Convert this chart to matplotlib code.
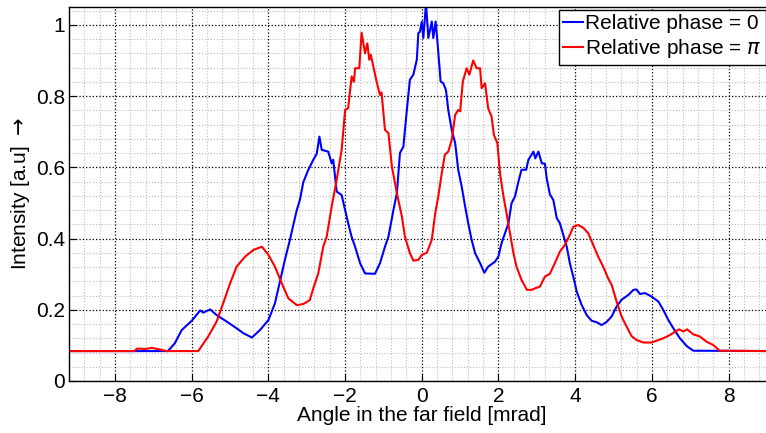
import matplotlib
matplotlib.use("Agg")
import matplotlib.pyplot as plt
from matplotlib.ticker import MultipleLocator, FixedLocator, FixedFormatter

plt.rcParams['font.family'] = ['Liberation Sans', 'DejaVu Sans']

# ----------------------------- Data -----------------------------

blue_x = [-9.2, -6.62, -6.44, -6.26, -6.0, -5.78, -5.70, -5.52, -5.35, -5.09, -4.83, -4.65,
          -4.43, -4.22, -4.0, -3.83, -3.70, -3.57, -3.44, -3.26, -3.18, -3.09, -2.96, -2.83,
          -2.74, -2.67, -2.61, -2.44, -2.35, -2.31, -2.22, -2.09, -2.0, -1.92, -1.83, -1.74,
          -1.61, -1.48, -1.22, -1.09, -0.96, -0.87, -0.74, -0.65, -0.57, -0.48, -0.39, -0.31,
          -0.22, -0.13, -0.09, -0.05, 0.0, 0.04, 0.11, 0.17, 0.26, 0.30, 0.36, 0.40, 0.46,
          0.49, 0.56, 0.63, 0.69, 0.78, 0.87, 0.95, 1.04, 1.13, 1.21, 1.30, 1.39, 1.52, 1.63,
          1.73, 1.91, 2.0, 2.08, 2.17, 2.26, 2.34, 2.43, 2.52, 2.60, 2.72, 2.78, 2.91, 2.96,
          3.04, 3.13, 3.21, 3.26, 3.34, 3.43, 3.52, 3.60, 3.69, 3.78, 3.86, 3.95, 4.04, 4.17,
          4.30, 4.43, 4.56, 4.69, 4.82, 4.95, 5.08, 5.21, 5.39, 5.52, 5.60, 5.69, 5.82, 5.99,
          6.17, 6.30, 6.43, 6.56, 6.73, 6.91, 7.08, 9.2]
blue_y = [0.084, 0.084, 0.106, 0.143, 0.169, 0.198, 0.192, 0.201, 0.185, 0.167, 0.148, 0.134,
          0.122, 0.143, 0.171, 0.218, 0.279, 0.340, 0.396, 0.480, 0.508, 0.558, 0.593, 0.621,
          0.638, 0.686, 0.649, 0.644, 0.611, 0.621, 0.532, 0.522, 0.480, 0.443, 0.405, 0.377,
          0.331, 0.302, 0.301, 0.331, 0.377, 0.405, 0.480, 0.527, 0.640, 0.658, 0.761, 0.846,
          0.860, 0.902, 0.977, 0.980, 1.009, 0.963, 1.06, 0.963, 1.009, 0.963, 1.009, 0.963,
          0.883, 0.841, 0.836, 0.817, 0.761, 0.705, 0.668, 0.593, 0.546, 0.490, 0.443, 0.396,
          0.359, 0.331, 0.304, 0.321, 0.335, 0.350, 0.387, 0.415, 0.443, 0.499, 0.518, 0.560,
          0.593, 0.593, 0.621, 0.644, 0.625, 0.644, 0.611, 0.610, 0.567, 0.524, 0.508, 0.457,
          0.443, 0.410, 0.377, 0.331, 0.293, 0.251, 0.213, 0.185, 0.169, 0.165, 0.157, 0.166,
          0.181, 0.209, 0.228, 0.242, 0.256, 0.257, 0.244, 0.247, 0.237, 0.223, 0.199, 0.171,
          0.148, 0.120, 0.098, 0.085, 0.084]

red_x = [-9.2, -7.50, -7.42, -7.2, -7.04, -6.9, -6.65, -5.83, -5.57, -5.35, -5.18, -5.0, -4.83,
         -4.61, -4.39, -4.17, -4.0, -3.83, -3.65, -3.48, -3.26, -3.09, -2.92, -2.83, -2.70,
         -2.57, -2.48, -2.35, -2.22, -2.09, -2.0, -1.92, -1.83, -1.77, -1.74, -1.63, -1.57,
         -1.48, -1.42, -1.37, -1.33, -1.18, -1.09, -1.05, -0.96, -0.87, -0.78, -0.65, -0.52,
         -0.44, -0.31, -0.22, -0.09, 0.0, 0.13, 0.21, 0.26, 0.35, 0.43, 0.52, 0.60, 0.69, 0.78,
         0.87, 0.95, 1.0, 1.07, 1.17, 1.24, 1.34, 1.43, 1.52, 1.56, 1.65, 1.73, 1.82, 1.88,
         1.97, 2.04, 2.13, 2.21, 2.30, 2.39, 2.47, 2.60, 2.74, 2.87, 2.95, 3.08, 3.21, 3.34,
         3.47, 3.60, 3.73, 3.86, 3.95, 4.08, 4.21, 4.34, 4.47, 4.60, 4.73, 4.86, 4.95, 5.08,
         5.21, 5.34, 5.47, 5.60, 5.78, 5.99, 6.17, 6.30, 6.47, 6.60, 6.71, 6.82, 6.92, 7.08,
         7.25, 7.43, 7.60, 7.77, 9.2]
red_y = [0.084, 0.084, 0.091, 0.090, 0.093, 0.090, 0.084, 0.084, 0.125, 0.167, 0.218, 0.274,
         0.321, 0.349, 0.368, 0.377, 0.354, 0.321, 0.274, 0.232, 0.213, 0.216, 0.227, 0.260,
         0.302, 0.377, 0.405, 0.490, 0.565, 0.649, 0.761, 0.766, 0.855, 0.840, 0.878, 0.878,
         0.978, 0.920, 0.948, 0.902, 0.916, 0.841, 0.803, 0.810, 0.705, 0.696, 0.602, 0.527,
         0.462, 0.405, 0.359, 0.338, 0.340, 0.354, 0.360, 0.382, 0.396, 0.471, 0.518, 0.583,
         0.635, 0.644, 0.677, 0.747, 0.761, 0.757, 0.841, 0.878, 0.860, 0.900, 0.878, 0.878,
         0.822, 0.836, 0.766, 0.742, 0.691, 0.668, 0.583, 0.518, 0.471, 0.415, 0.359, 0.321,
         0.284, 0.256, 0.256, 0.260, 0.265, 0.293, 0.301, 0.331, 0.363, 0.382, 0.410, 0.433,
         0.438, 0.430, 0.415, 0.382, 0.349, 0.321, 0.288, 0.270, 0.223, 0.181, 0.153, 0.126,
         0.115, 0.108, 0.108, 0.115, 0.120, 0.129, 0.138, 0.145, 0.139, 0.145, 0.131, 0.125,
         0.110, 0.101, 0.085, 0.084]

labels = ["Relative phase = 0", r"Relative phase = $\pi$"]
x_ticks = [-8, -6, -4, -2, 0, 2, 4, 6, 8]
y_ticks = [0, 0.2, 0.4, 0.6, 0.8, 1.0]
y_tick_labels = ["0", "0.2", "0.4", "0.6", "0.8", "1"]

# ----------------------------- Plot -----------------------------

W, H = 766, 433
FS = 15
fig = plt.figure(figsize=(W / 100, H / 100), dpi=100)
# axes run off the right edge of the picture, as in the reference
ax = fig.add_axes([69 / W, 52 / H, 705.6 / W, 374 / H])

ax.plot(blue_x, blue_y, color="#0000ff", lw=1.5, label=labels[0])
ax.plot(red_x, red_y, color="#ff0000", lw=1.5, label=labels[1])

ax.set_xlim(-9.2, 9.2)
ax.set_ylim(0, 1.05)
ax.xaxis.set_major_locator(FixedLocator(x_ticks))
ax.yaxis.set_major_locator(FixedLocator(y_ticks))
ax.yaxis.set_major_formatter(FixedFormatter(y_tick_labels))
ax.xaxis.set_minor_locator(MultipleLocator(0.4))
ax.yaxis.set_minor_locator(MultipleLocator(0.04))

ax.set_axisbelow(True)
ax.grid(which="minor", color="#bdbdbd", linestyle=":", linewidth=0.8)
ax.grid(which="major", color="black", linestyle=":", linewidth=0.9)

ax.tick_params(which="major", direction="in", length=5, width=0.8, labelsize=FS)
ax.tick_params(axis="x", which="major", pad=4)
ax.tick_params(axis="y", which="major", pad=3)
ax.tick_params(which="minor", length=0)
for s in ax.spines.values():
    s.set_linewidth(1.0)

ax.set_xlabel("Angle in the far field [mrad]", fontsize=FS, labelpad=0.5)
ax.set_ylabel(r"Intensity [a.u] $\rightarrow$", fontsize=FS, labelpad=3)

# legend sits in the top right corner, kept just inside the picture
leg = ax.legend(loc="upper left", bbox_to_anchor=(559 / W, 1 - 10 / H),
                bbox_transform=fig.transFigure, borderaxespad=0, fontsize=FS,
                fancybox=False, framealpha=1, edgecolor="black",
                handlelength=0.95, handletextpad=0.12, labelspacing=0.2, borderpad=0.2)
leg.get_frame().set_linewidth(1.0)

fig.savefig("out.png", dpi=100)
